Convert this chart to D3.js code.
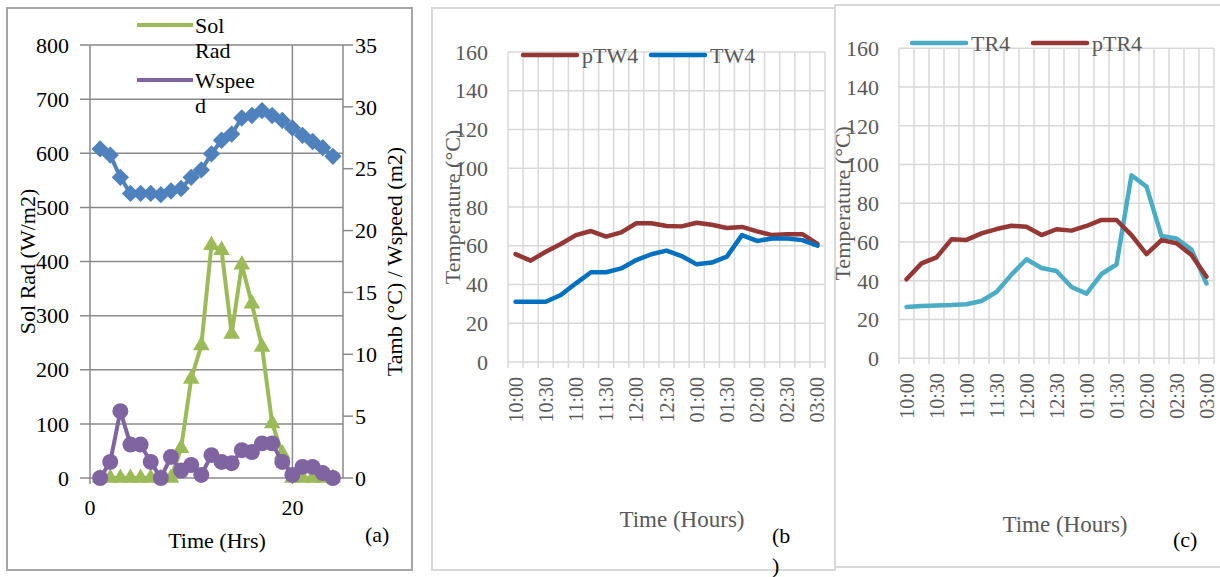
<!DOCTYPE html>
<html>
<head>
<meta charset="utf-8">
<script src="https://cdn.jsdelivr.net/npm/d3@7"></script>
<style>
body { margin: 0; background: #fff; }
text { font-family: "Liberation Serif", "Times New Roman", serif; }
</style>
</head>
<body>
<div id="chart"></div>
<script>
// panel (a): hourly weather data
const hours = [1, 2, 3, 4, 5, 6, 7, 8, 9, 10, 11, 12, 13, 14, 15, 16, 17, 18, 19, 20, 21, 22, 23, 24];
const tamb = [26.6, 26.1, 24.3, 23.0, 23.0, 23.0, 22.9, 23.2, 23.4, 24.3, 24.9, 26.2, 27.3, 27.8, 29.1, 29.3, 29.7, 29.3, 28.9, 28.3, 27.7, 27.2, 26.7, 26.0];
const solRad = [0, 0, 0, 0, 0, 0, 0, 0, 55, 183, 245, 430, 421, 266, 394, 322, 242, 101, 45, 0, 0, 0, 0, 0];
const wspeed = [0, 1.3, 5.4, 2.7, 2.7, 1.3, 0, 1.7, 0.6, 1.05, 0.25, 1.85, 1.3, 1.2, 2.25, 2.1, 2.8, 2.8, 1.3, 0.25, 0.9, 0.9, 0.4, 0];
const radTicks = [0, 100, 200, 300, 400, 500, 600, 700, 800];
const rightTicks = [0, 5, 10, 15, 20, 25, 30, 35];
const hourTicks = [0, 20];

// panels (b) and (c): temperatures every 15 minutes
const times = ["10:00", "10:15", "10:30", "10:45", "11:00", "11:15", "11:30", "11:45", "12:00", "12:15", "12:30",
  "12:45", "01:00", "01:15", "01:30", "01:45", "02:00", "02:15", "02:30", "02:45", "03:00"];
const pTW4 = [55.7, 52.3, 56.9, 60.9, 65.5, 67.6, 64.7, 66.9, 71.6, 71.6, 70.2, 70.0, 71.9, 70.8, 69.2, 69.7, 67.4, 65.5, 66.0, 66.0, 61.0];
const TW4 = [31.1, 31.1, 31.1, 34.6, 40.6, 46.3, 46.3, 48.3, 52.6, 55.6, 57.5, 54.7, 50.4, 51.3, 54.4, 65.5, 62.5, 63.7, 63.7, 62.9, 60.0];
const TR4 = [26.5, 27.0, 27.3, 27.5, 27.9, 29.6, 34.2, 43.2, 51.1, 46.6, 45.1, 36.8, 33.4, 43.5, 48.4, 94.5, 88.6, 63.1, 61.8, 56.1, 38.6];
const pTR4 = [40.8, 49.0, 52.1, 61.4, 61.1, 64.5, 66.7, 68.4, 67.9, 63.6, 66.6, 65.9, 68.3, 71.4, 71.4, 63.6, 53.8, 61.0, 59.4, 53.3, 42.1];
const tempTicks = [0, 20, 40, 60, 80, 100, 120, 140, 160];

const width = 1220;
const height = 577;

const svg = d3.select("#chart").append("svg")
    .attr("width", width)
    .attr("height", height)
    .attr("viewBox", [0, 0, width, height])
    .attr("font-family", "'Liberation Serif', 'Times New Roman', serif");

// ---------- panel (a) ----------
const ga = svg.append("g");

ga.append("rect")
    .attr("x", 7).attr("y", 8).attr("width", 405).attr("height", 562)
    .attr("fill", "#fff").attr("stroke", "#a6a6a6").attr("stroke-width", 2);

const ax = d3.scaleLinear().domain([0, 25]).range([90, 343]);
const ayL = d3.scaleLinear().domain([0, 800]).range([478, 45]);
const ayR = d3.scaleLinear().domain([0, 35]).range([478, 45]);

const gridA = "#8a8a8a";

ga.append("g")
    .selectAll("line")
    .data(radTicks)
    .join("line")
      .attr("x1", ax(0) - 10).attr("x2", ax(25))
      .attr("y1", d => ayL(d)).attr("y2", d => ayL(d))
      .attr("stroke", gridA).attr("stroke-width", 1.5);

ga.append("g")
    .selectAll("line")
    .data(hourTicks)
    .join("line")
      .attr("x1", d => ax(d)).attr("x2", d => ax(d))
      .attr("y1", ayL(800)).attr("y2", ayL(0) + 6)
      .attr("stroke", gridA).attr("stroke-width", 1.5);

// right axis line with outward ticks
ga.append("line")
    .attr("x1", ax(25)).attr("x2", ax(25))
    .attr("y1", ayR(35)).attr("y2", ayR(0))
    .attr("stroke", gridA).attr("stroke-width", 1.5);
ga.append("g")
    .selectAll("line")
    .data(rightTicks)
    .join("line")
      .attr("x1", ax(25)).attr("x2", ax(25) + 10)
      .attr("y1", d => ayR(d)).attr("y2", d => ayR(d))
      .attr("stroke", gridA).attr("stroke-width", 1.5);

ga.append("g")
    .selectAll("text")
    .data(radTicks)
    .join("text")
      .attr("x", ax(0) - 21).attr("y", d => ayL(d))
      .attr("dy", "0.35em").attr("text-anchor", "end")
      .attr("font-size", 22).attr("fill", "#000")
      .text(d => d);

ga.append("g")
    .selectAll("text")
    .data(rightTicks)
    .join("text")
      .attr("x", ax(25) + 12).attr("y", d => ayR(d))
      .attr("dy", "0.35em").attr("text-anchor", "start")
      .attr("font-size", 22).attr("fill", "#000")
      .text(d => d);

ga.append("g")
    .selectAll("text")
    .data(hourTicks)
    .join("text")
      .attr("x", d => ax(d)).attr("y", 515)
      .attr("text-anchor", "middle")
      .attr("font-size", 22).attr("fill", "#000")
      .text(d => d);

ga.append("text")
    .attr("transform", `translate(35,${(ayL(0) + ayL(800)) / 2}) rotate(-90)`)
    .attr("text-anchor", "middle").attr("font-size", 22)
    .text("Sol Rad (W/m2)");

ga.append("text")
    .attr("transform", `translate(402,${(ayL(0) + ayL(800)) / 2}) rotate(-90)`)
    .attr("text-anchor", "middle").attr("font-size", 22)
    .text("Tamb (°C) / Wspeed (m2)");

ga.append("text")
    .attr("x", 217).attr("y", 548)
    .attr("text-anchor", "middle").attr("font-size", 22)
    .text("Time (Hrs)");

ga.append("text")
    .attr("x", 365).attr("y", 542)
    .attr("font-size", 22)
    .text("(a)");

const diamond = d3.symbol(d3.symbolSquare, 150);
const triangle = d3.symbol(d3.symbolTriangle, 120);
const circle = d3.symbol(d3.symbolCircle, 200);

// Tamb (right axis)
ga.append("path")
    .datum(hours)
    .attr("fill", "none").attr("stroke", "#4f81bd").attr("stroke-width", 4)
    .attr("d", d3.line().x(d => ax(d)).y((d, i) => ayR(tamb[i])));
ga.append("g")
    .selectAll("path")
    .data(hours)
    .join("path")
      .attr("transform", (d, i) => `translate(${ax(d)},${ayR(tamb[i])}) rotate(45)`)
      .attr("d", diamond)
      .attr("fill", "#4f81bd");

// Sol Rad (left axis)
ga.append("path")
    .datum(hours)
    .attr("fill", "none").attr("stroke", "#9bbb59").attr("stroke-width", 4)
    .attr("d", d3.line().x(d => ax(d)).y((d, i) => ayL(solRad[i])));
ga.append("g")
    .selectAll("path")
    .data(hours)
    .join("path")
      .attr("transform", (d, i) => `translate(${ax(d)},${ayL(solRad[i])})`)
      .attr("d", triangle)
      .attr("fill", "#9bbb59");

// Wspeed (right axis)
ga.append("path")
    .datum(hours)
    .attr("fill", "none").attr("stroke", "#8064a2").attr("stroke-width", 4)
    .attr("d", d3.line().x(d => ax(d)).y((d, i) => ayR(wspeed[i])));
ga.append("g")
    .selectAll("path")
    .data(hours)
    .join("path")
      .attr("transform", (d, i) => `translate(${ax(d)},${ayR(wspeed[i])})`)
      .attr("d", circle)
      .attr("fill", "#8064a2");

// legend (a)
const legA = [
  {name: ["Sol", "Rad"], color: "#9bbb59", sym: triangle, y: 25},
  {name: ["Wspee", "d"], color: "#8064a2", sym: circle, y: 80}
];
const la = ga.append("g").selectAll("g").data(legA).join("g");
la.append("line")
    .attr("x1", 137).attr("x2", 193).attr("y1", d => d.y).attr("y2", d => d.y)
    .attr("stroke", d => d.color).attr("stroke-width", 4);
la.append("path")
    .attr("transform", d => `translate(165,${d.y})`)
    .attr("d", d => d.sym).attr("fill", d => d.color);
la.append("text")
    .attr("x", 195).attr("y", d => d.y + 8)
    .attr("font-size", 22)
    .text(d => d.name[0]);
la.append("text")
    .attr("x", 195).attr("y", d => d.y + 33)
    .attr("font-size", 22)
    .text(d => d.name[1]);

// ---------- panels (b) and (c) ----------
function tempPanel(p) {
  const g = svg.append("g");
  if (p.clip) {
    svg.append("clipPath").attr("id", p.clip)
      .append("rect").attr("x", p.clipX).attr("y", 0).attr("width", width - p.clipX).attr("height", height);
    g.attr("clip-path", `url(#${p.clip})`);
  }

  g.append("rect")
      .attr("x", p.box[0]).attr("y", p.box[1]).attr("width", p.box[2]).attr("height", p.box[3])
      .attr("fill", "#fff").attr("stroke", "#d9d9d9").attr("stroke-width", 2);

  const x = d3.scaleBand().domain(times).range([p.left, p.right]).padding(0);
  const y = d3.scaleLinear().domain([0, 160]).range([p.bottom, p.top]);

  g.append("g")
      .selectAll("line")
      .data(tempTicks)
      .join("line")
        .attr("x1", p.left).attr("x2", p.right)
        .attr("y1", d => y(d)).attr("y2", d => y(d))
        .attr("stroke", "#d9d9d9").attr("stroke-width", 1.5);

  g.append("g")
      .selectAll("line")
      .data(times.concat(["end"]))
      .join("line")
        .attr("x1", d => d === "end" ? p.right : x(d))
        .attr("x2", d => d === "end" ? p.right : x(d))
        .attr("y1", y(160)).attr("y2", y(0) + 6)
        .attr("stroke", "#d9d9d9").attr("stroke-width", 1.5);

  g.append("g")
      .selectAll("text")
      .data(tempTicks)
      .join("text")
        .attr("x", p.left - 20).attr("y", d => y(d))
        .attr("dy", "0.35em").attr("text-anchor", "end")
        .attr("font-size", 22).attr("fill", "#595959")
        .text(d => d);

  g.append("g")
      .selectAll("text")
      .data(times.filter((d, i) => i % 2 === 0))
      .join("text")
        .attr("transform", d => `translate(${x(d) + x.bandwidth() / 2},${y(0) + 15}) rotate(-90)`)
        .attr("dy", "0.35em").attr("text-anchor", "end")
        .attr("font-size", 20).attr("fill", "#595959")
        .text(d => d);

  g.append("text")
      .attr("transform", `translate(${p.titleX},${(p.top + p.bottom) / 2}) rotate(-90)`)
      .attr("text-anchor", "middle").attr("font-size", 22).attr("fill", "#595959")
      .text("Temperature (°C)");

  g.append("text")
      .attr("x", p.timeX).attr("y", p.timeY)
      .attr("text-anchor", "middle").attr("font-size", 23).attr("fill", "#595959")
      .text("Time (Hours)");

  p.series.forEach(s => {
    g.append("path")
        .datum(times)
        .attr("fill", "none").attr("stroke", s.color).attr("stroke-width", 4.5)
        .attr("stroke-linejoin", "round").attr("stroke-linecap", "round")
        .attr("d", d3.line().x(d => x(d) + x.bandwidth() / 2).y((d, i) => y(s.values[i])));

    g.append("line")
        .attr("x1", s.lx).attr("x2", s.lx + 54).attr("y1", p.legY).attr("y2", p.legY)
        .attr("stroke", s.color).attr("stroke-width", 4.5).attr("stroke-linecap", "round");
    g.append("text")
        .attr("x", s.lx + 59).attr("y", p.legY + 8)
        .attr("font-size", 22).attr("fill", "#595959")
        .text(s.name);
  });

  return g;
}

const gb = tempPanel({
  box: [432, 8, 403, 562],
  left: 508, right: 825, top: 52, bottom: 362,
  titleX: 460, timeX: 682, timeY: 527, legY: 55,
  series: [
    {name: "pTW4", values: pTW4, color: "#953735", lx: 523},
    {name: "TW4", values: TW4, color: "#0070c0", lx: 651}
  ]
});
gb.append("text").attr("x", 772).attr("y", 543).attr("font-size", 22).text("(b");
gb.append("text").attr("x", 772).attr("y", 573).attr("font-size", 22).text(")");

const gc = tempPanel({
  clip: "clipC", clipX: 834,
  box: [835, 5, 400, 562],
  left: 899, right: 1214, top: 48.3, bottom: 358.3,
  titleX: 850, timeX: 1065, timeY: 532, legY: 43,
  series: [
    {name: "TR4", values: TR4, color: "#4bacc6", lx: 912},
    {name: "pTR4", values: pTR4, color: "#953735", lx: 1033}
  ]
});
gc.append("text").attr("x", 1173).attr("y", 547).attr("font-size", 22).text("(c)");
</script>
</body>
</html>
